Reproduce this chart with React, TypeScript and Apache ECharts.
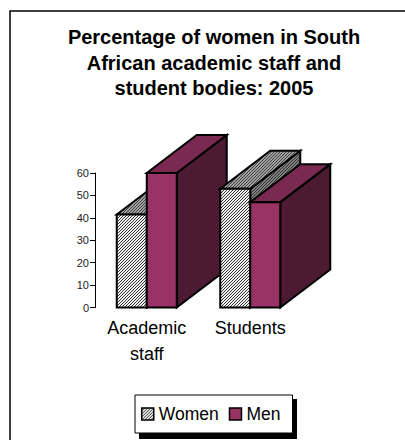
import React, { useEffect, useRef } from "react";
import * as echarts from "echarts";

const titleText = "Percentage of women in South\nAfrican academic staff and\nstudent bodies: 2005";
const categories = ["Academic\nstaff", "Students"];
const women = [41.5, 53];
const men = [60, 47];
const yTicks = { min: 0, max: 60, interval: 10 };

const FONT = '"Liberation Sans", Arial, sans-serif';
const BAR_W = 30;
const DEPTH_X = 50;
const DEPTH_Y = 38;

// Fine diagonal hatch tile: one ink stroke per three pixels over a paper colour.
function hatch(paper: string, ink: string) {
  const c = document.createElement("canvas");
  c.width = 3;
  c.height = 3;
  const g = c.getContext("2d")!;
  g.fillStyle = paper;
  g.fillRect(0, 0, 3, 3);
  g.fillStyle = ink;
  for (const [x, y] of [[2, 0], [1, 1], [0, 2]]) g.fillRect(x, y, 1, 1);
  return { image: c, repeat: "repeat" } as any;
}

// One extruded bar: side and top faces behind a front face.
function prism(order: number, sign: number, front: any, top: any, side: any) {
  return (_: any, api: any) => {
    const cat = api.value(0);
    const [cx, yTop] = api.coord([cat, api.value(1)]);
    const [, yBase] = api.coord([cat, 0]);
    const x0 = sign < 0 ? cx - BAR_W : cx;
    const x1 = x0 + BAR_W;
    const z = cat * 10 + order;
    const lineStyle = { stroke: "#000", lineWidth: 2, lineJoin: "miter" };
    const face = (points: number[][], fill: any, z2: number) => ({
      type: "polygon",
      z2,
      shape: { points },
      style: { fill, ...lineStyle },
    });
    return {
      type: "group",
      children: [
        face([[x1, yBase], [x1 + DEPTH_X, yBase - DEPTH_Y], [x1 + DEPTH_X, yTop - DEPTH_Y], [x1, yTop]], side, z),
        face([[x0, yTop], [x0 + DEPTH_X, yTop - DEPTH_Y], [x1 + DEPTH_X, yTop - DEPTH_Y], [x1, yTop]], top, z),
        face([[x0, yBase], [x1, yBase], [x1, yTop], [x0, yTop]], front, z),
      ],
    };
  };
}

export default function App() {
  const ref = useRef<HTMLDivElement>(null);

  useEffect(() => {
    const chart = echarts.init(ref.current!, null, { renderer: "svg" });
    const womenFront = hatch("#f0f0f0", "#333333");
    const womenTop = hatch("#a0a0a0", "#404040");
    const womenSide = hatch("#808080", "#303030");
    const menFront = "#993366";
    const menTop = "#7a2950";
    const menSide = "#4d1a33";

    chart.setOption({
      animation: false,
      backgroundColor: "#ffffff",
      title: {
        text: titleText,
        left: 209,
        top: 19,
        textAlign: "center",
        textStyle: { fontFamily: FONT, fontWeight: "bold", fontSize: 20, lineHeight: 25.7, color: "#000" },
      },
      grid: { left: 95, top: 173, width: 207, height: 134.5 },
      xAxis: {
        type: "category",
        data: categories,
        axisLine: { show: false },
        axisTick: { show: false },
        axisLabel: {
          interval: 0,
          margin: 7,
          fontFamily: FONT,
          fontSize: 18,
          lineHeight: 26,
          color: "#000",
        },
      },
      yAxis: {
        type: "value",
        ...yTicks,
        splitLine: { show: false },
        axisLine: { show: true, lineStyle: { color: "#000", width: 1 } },
        axisTick: { show: true, length: 5, lineStyle: { color: "#000", width: 1 } },
        axisLabel: { margin: 6, fontFamily: FONT, fontSize: 11, color: "#222" },
      },
      legend: {
        left: 135,
        top: 395,
        padding: [10, 12, 10, 6],
        itemGap: 10,
        itemWidth: 12,
        itemHeight: 12,
        backgroundColor: "#ffffff",
        borderColor: "#000",
        borderWidth: 1,
        selectedMode: false,
        textStyle: { fontFamily: FONT, fontSize: 17.5, color: "#000", padding: [0, 1, 0, 0] },
        data: [
          { name: "Women", icon: "rect", itemStyle: { color: hatch("#f0f0f0", "#333333"), borderColor: "#000", borderWidth: 1.5 } },
          { name: "Men", icon: "rect", itemStyle: { color: menFront, borderColor: "#000", borderWidth: 1.5 } },
        ],
      },
      graphic: [
        {
          type: "polyline",
          z: -1,
          shape: { points: [[10, 440], [10, 11], [405, 11]] },
          style: { fill: "none", stroke: "#000", lineWidth: 1.5 },
        },
        {
          type: "rect",
          z: -1,
          shape: { x: 139, y: 399, width: 158, height: 40 },
          style: { fill: "#000" },
        },
      ],
      series: [
        {
          type: "custom",
          name: "Women",
          clip: false,
          renderItem: prism(0, -1, womenFront, womenTop, womenSide),
          data: women.map((v, i) => [i, v]),
        },
        {
          type: "custom",
          name: "Men",
          clip: false,
          renderItem: prism(1, 1, menFront, menTop, menSide),
          data: men.map((v, i) => [i, v]),
        },
      ],
    });
    return () => chart.dispose();
  }, []);

  return <div ref={ref} style={{ position: "absolute", left: 0, top: 0, width: 405, height: 440 }} />;
}
